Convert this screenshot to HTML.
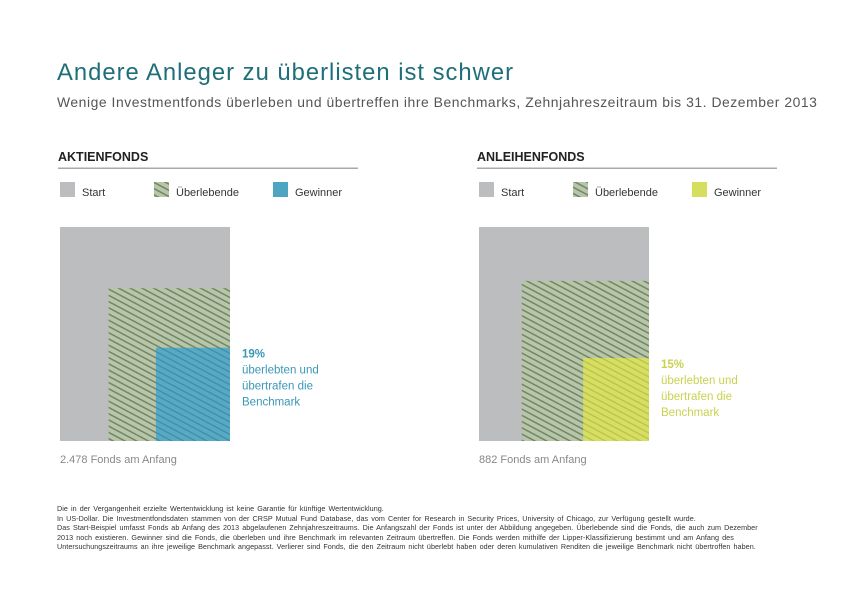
<!DOCTYPE html>
<html><head><meta charset="utf-8">
<style>
body{margin:0;background:#fff;width:842px;height:595px;overflow:hidden;font-family:"Liberation Sans",sans-serif;}
svg{position:absolute;left:0;top:0}
.foot{position:absolute;left:57px;top:504px;width:705px;font-size:7.2px;line-height:9.6px;color:#333;word-spacing:1px;letter-spacing:0.05px}
</style></head><body>
<svg width="842" height="595">
<defs>
<pattern id="hatch" patternUnits="userSpaceOnUse" width="14" height="5.5" patternTransform="rotate(28)">
<rect width="14" height="5.5" fill="#b8c4ae"/><rect y="0" width="14" height="1.5" fill="#6f8a58"/>
</pattern>
<pattern id="hatchB" patternUnits="userSpaceOnUse" width="14" height="5.5" patternTransform="rotate(28)">
<rect width="14" height="5.5" fill="#57a9c4"/><rect y="0" width="14" height="1.3" fill="#3f8ea9"/>
</pattern>
<pattern id="hatchY" patternUnits="userSpaceOnUse" width="14" height="5.5" patternTransform="rotate(28)">
<rect width="14" height="5.5" fill="#d7df63"/><rect y="0" width="14" height="1.3" fill="#b9c24c"/>
</pattern>
</defs>
<text x="57" y="80" font-size="23.8" letter-spacing="1" fill="#1f6f79">Andere Anleger zu überlisten ist schwer</text>
<text x="57" y="107" font-size="13.9" letter-spacing="0.55" fill="#555">Wenige Investmentfonds überleben und übertreffen ihre Benchmarks, Zehnjahreszeitraum bis 31. Dezember 2013</text>
<g id="panels"></g>
</svg>
<div class="foot">Die in der Vergangenheit erzielte Wertentwicklung ist keine Garantie für künftige Wertentwicklung.<br>In US-Dollar. Die Investmentfondsdaten stammen von der CRSP Mutual Fund Database, das vom Center for Research in Security Prices, University of Chicago, zur Verfügung gestellt wurde.<br>Das Start-Beispiel umfasst Fonds ab Anfang des 2013 abgelaufenen Zehnjahreszeitraums. Die Anfangszahl der Fonds ist unter der Abbildung angegeben. Überlebende sind die Fonds, die auch zum Dezember 2013 noch existieren. Gewinner sind die Fonds, die überleben und ihre Benchmark im relevanten Zeitraum übertreffen. Die Fonds werden mithilfe der Lipper-Klassifizierung bestimmt und am Anfang des Untersuchungszeitraums an ihre jeweilige Benchmark angepasst. Verlierer sind Fonds, die den Zeitraum nicht überlebt haben oder deren kumulativen Renditen die jeweilige Benchmark nicht übertroffen haben.</div>
<script>
const panelTitles = ["AKTIENFONDS", "ANLEIHENFONDS"];
const startCounts = ["2.478", "882"];
const survivorShare = [0.51, 0.56];
const winnerShare = [0.19, 0.15];
const winnerColors = ["#4ea5c2", "#d6de5e"];
const winnerText = ["#3a97b6", "#c9d24f"];

const NS = "http://www.w3.org/2000/svg";
const g = document.getElementById("panels");
function mk(tag, attrs, parent){const e=document.createElementNS(NS,tag);for(const k in attrs)e.setAttribute(k,attrs[k]);(parent||g).appendChild(e);return e;}
const X0 = [60, 479], W = 170, H = 214, Y0 = 227;
panelTitles.forEach((t, i) => {
  const x = X0[i];
  const grp = mk("g", {});
  
  
  let e = mk("text", {x: x-2, y: 161, "font-size": 12.5, "font-weight": "bold", fill: "#222"}, grp); e.textContent = t;
  
  
  mk("rect", {x: x-2, y: 167.5, width: 300, height: 1.5, fill: "#aaa"}, grp);
  const leg = [["Start", "#bcbdbf"], ["Überlebende", "url(#hatch)"], ["Gewinner", winnerColors[i]]];
  const lx = [x, x+94, x+213];
  leg.forEach((l, j) => {
    const r = mk("rect", {x: lx[j], y: 182, width: 15, height: 15, fill: l[1]}, grp);
    
    
    const tx = mk("text", {x: lx[j]+22, y: 196, "font-size": 11, fill: "#333"}, grp); tx.textContent = l[0];
    
    
  });
  const r0 = mk("rect", {x: x, y: Y0, width: W, height: H, fill: "#bcbdbf"}, grp);
  
  
  const s = Math.sqrt(survivorShare[i]);
  const r1 = mk("rect", {x: x+W-W*s, y: Y0+H-H*s, width: W*s, height: H*s, fill: "url(#hatch)"}, grp);
  
  
  const w = Math.sqrt(winnerShare[i]);
  const r2 = mk("rect", {x: x+W-W*w, y: Y0+H-H*w, width: W*w, height: H*w, fill: i ? "url(#hatchY)" : "url(#hatchB)"}, grp);
  
  
  const ty = Y0+H-H*w+10;
  const lines = [Math.round(winnerShare[i]*100)+"%", "überlebten und", "übertrafen die", "Benchmark"];
  lines.forEach((ln, k) => {
    const tt = mk("text", {x: x+W+12, y: ty+k*16, "font-size": 11.5, fill: winnerText[i], "font-weight": k ? "normal" : "bold"}, grp);
    tt.textContent = ln;
    
    
  });
  const c = mk("text", {x: x, y: Y0+H+22, "font-size": 11, fill: "#888"}, grp);
  c.textContent = startCounts[i] + " Fonds am Anfang";
  
  
});
</script>
</body></html>
